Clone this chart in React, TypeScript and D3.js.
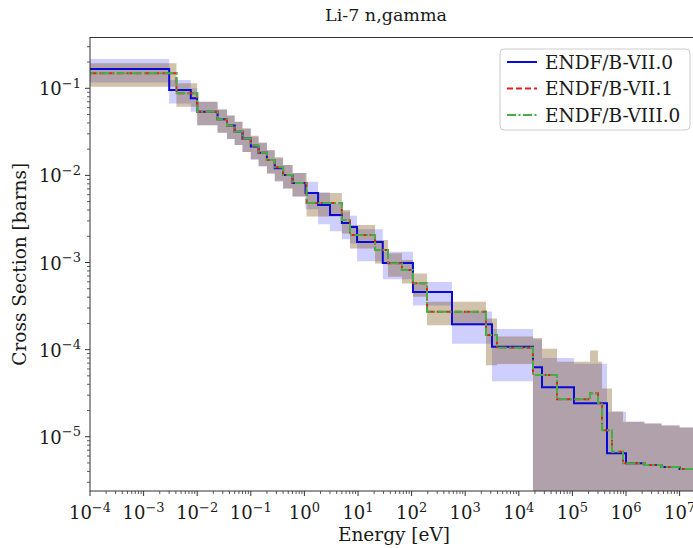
import React from "react";
import * as d3 from "d3";

const W = 693;
const H = 548;

const xTickExps = [-4, -3, -2, -1, 0, 1, 2, 3, 4, 5, 6, 7];
const yTickExps = [-1, -2, -3, -4, -5];

// ENDF/B-VII.0
const edges70 = [1e-5, 3e-3, 7.6e-3, 1e-2, 0.024, 0.036, 0.05, 0.07, 0.1, 0.14, 0.2, 0.28, 0.4, 0.6, 1.05, 1.8, 3.0, 5.0, 7.1, 9.6, 29, 106, 567, 3160, 1.84e4, 2.71e4, 1.07e5, 4.42e5, 1.0e6, 2.2e6, 4.6e6, 1e7, 3e7];
const values70 = [0.167, 0.0956, 0.0768, 0.0538, 0.044, 0.0375, 0.0318, 0.0266, 0.0214, 0.0182, 0.015, 0.0121, 0.0101, 0.0082, 0.00628, 0.00457, 0.00351, 0.00284, 0.00255, 0.00172, 0.000986, 0.000458, 0.000195, 0.000108, 6.26e-5, 3.69e-5, 2.42e-5, 6.45e-6, 4.95e-6, 4.73e-6, 4.49e-6, 4.26e-6];
const unc70 = [0.3, 0.3, 0.3, 0.3, 0.3, 0.3, 0.3, 0.3, 0.3, 0.3, 0.3, 0.3, 0.3, 0.3, 0.35, 0.4, 0.35, 0.35, 0.35, 0.4, 0.35, 0.3, 0.4, 0.6, 1.1, 1.17, 1.85, 2.0, 2.0, 2.0, 2.0, 2.0];

// ENDF/B-VII.1
const edges71 = [1e-5, 4.1e-3, 1e-2, 0.024, 0.036, 0.05, 0.07, 0.1, 0.14, 0.2, 0.28, 0.4, 0.6, 1.1, 5.0, 7.1, 20.8, 36.3, 66, 106, 194, 2440, 3920, 1.84e4, 2.71e4, 5.16e4, 2.13e5, 3.0e5, 3.57e5, 5.48e5, 8.79e5, 2.2e6, 4.6e6, 1e7, 3e7];
const values71 = [0.149, 0.0877, 0.0538, 0.044, 0.0375, 0.0318, 0.0266, 0.022, 0.0182, 0.015, 0.0124, 0.0101, 0.0082, 0.00482, 0.00308, 0.00207, 0.00139, 0.00098, 0.00082, 0.000577, 0.000272, 0.000147, 0.000105, 5.11e-5, 5.11e-5, 2.69e-5, 3.15e-5, 2.45e-5, 1.19e-5, 6.73e-6, 4.95e-6, 4.73e-6, 4.49e-6, 4.26e-6];
const unc71 = [0.3, 0.3, 0.3, 0.3, 0.3, 0.3, 0.3, 0.3, 0.3, 0.3, 0.3, 0.3, 0.3, 0.3, 0.3, 0.3, 0.3, 0.3, 0.3, 0.3, 0.3, 0.55, 0.35, 1.66, 1.0, 1.7, 2.1, 1.96, 2.0, 1.9, 2.0, 2.0, 2.0, 2.0];

// ENDF/B-VIII.0
const edges80 = [1e-5, 4.1e-3, 1e-2, 0.024, 0.036, 0.05, 0.07, 0.1, 0.14, 0.2, 0.28, 0.4, 0.6, 1.1, 5.0, 7.1, 20.8, 36.3, 66, 106, 194, 2440, 3920, 1.84e4, 2.71e4, 5.16e4, 2.13e5, 3.0e5, 3.57e5, 5.48e5, 8.79e5, 2.2e6, 4.6e6, 1e7, 3e7];
const values80 = [0.149, 0.0877, 0.0538, 0.044, 0.0375, 0.0318, 0.0266, 0.022, 0.0182, 0.015, 0.0124, 0.0101, 0.0082, 0.00482, 0.00308, 0.00207, 0.00139, 0.00098, 0.00082, 0.000577, 0.000272, 0.000147, 0.000105, 5.11e-5, 5.11e-5, 2.69e-5, 3.15e-5, 2.45e-5, 1.19e-5, 6.73e-6, 4.95e-6, 4.73e-6, 4.49e-6, 4.26e-6];
const unc80 = [0.3, 0.3, 0.3, 0.3, 0.3, 0.3, 0.3, 0.3, 0.3, 0.3, 0.3, 0.3, 0.3, 0.3, 0.3, 0.3, 0.3, 0.3, 0.3, 0.3, 0.3, 0.55, 0.35, 1.66, 1.0, 1.7, 2.1, 1.96, 2.0, 1.9, 2.0, 2.0, 2.0, 2.0];

const seriesNames = ["ENDF/B-VII.0", "ENDF/B-VII.1", "ENDF/B-VIII.0"];

const FONT = "DejaVu Serif";

const PL = 90, PR = 700, PT = 37.5, PB = 491;

export default function App() {
  const x = d3.scaleLog().domain([1e-4, Math.pow(10, -4 + (PR - PL) / 53.6)]).range([PL, PR]);
  const y = d3.scaleLog().domain([Math.pow(10, -5.623), Math.pow(10, -0.417)]).range([PB, PT]);
  const yFloor = Math.pow(10, -7);

  const series = [
    { name: seriesNames[0], edges: edges70, values: values70, unc: unc70, band: "#0000ff", op: 0.19, line: "#0a0ad8", dash: "none" },
    { name: seriesNames[1], edges: edges71, values: values71, unc: unc71, band: "#ff0000", op: 0.18, line: "#dd2020", dash: "6,3" },
    { name: seriesNames[2], edges: edges80, values: values80, unc: unc80, band: "#008000", op: 0.18, line: "#44b044", dash: "9,2.5,2,2.5" },
  ];

  const build = (s: any) =>
    s.edges.map((e: number, i: number) => {
      const k = Math.min(i, s.values.length - 1);
      const v = s.values[k];
      const u = s.unc[k];
      const lo = v * (1 - u);
      return { e, v, hi: v * (1 + u), lo: lo > 0 ? lo : yFloor };
    });

  const area = d3.area<any>().x((d) => x(d.e)).y0((d) => y(d.lo)).y1((d) => y(d.hi)).curve(d3.curveStepAfter);
  const line = d3.line<any>().x((d) => x(d.e)).y((d) => y(d.v)).curve(d3.curveStepAfter);

  const xMinor: number[] = [];
  for (let p = -4; p <= 7; p++) for (let m = 2; m <= 9; m++) { const v = m * Math.pow(10, p); if (x(v) <= PR) xMinor.push(v); }
  const yMinor: number[] = [];
  for (let p = -6; p <= -1; p++) for (let m = 2; m <= 9; m++) { const v = m * Math.pow(10, p); if (y(v) >= PT && y(v) <= PB) yMinor.push(v); }

  const axisColor = "#333";

  return (
    <svg width={W} height={H} style={{ position: "absolute", left: 0, top: 0, background: "#fff" }} fontFamily={FONT}>
      <defs>
        <clipPath id="plotclip">
          <rect x={PL} y={PT} width={PR - PL} height={PB - PT} />
        </clipPath>
      </defs>
      <rect x={0} y={0} width={W} height={H} fill="#fff" />
      <g clipPath="url(#plotclip)">
        {series.map((s) => (
          <path key={"b" + s.name} d={area(build(s)) || ""} fill={s.band} fillOpacity={s.op} stroke="none" />
        ))}
        {series.map((s) => (
          <path key={"l" + s.name} d={line(build(s)) || ""} fill="none" stroke={s.line} strokeWidth={2} strokeDasharray={s.dash} />
        ))}
      </g>
      {/* spines */}
      <rect x={PL} y={PT} width={PR - PL} height={PB - PT} fill="none" stroke={axisColor} strokeWidth={1} />
      {/* x ticks */}
      {xTickExps.map((p) => (
        <line key={"xt" + p} x1={x(Math.pow(10, p))} x2={x(Math.pow(10, p))} y1={PB} y2={PB + 5} stroke={axisColor} strokeWidth={1} />
      ))}
      {xMinor.map((v, i) => (
        <line key={"xm" + i} x1={x(v)} x2={x(v)} y1={PB} y2={PB + 3} stroke={axisColor} strokeWidth={0.8} />
      ))}
      {xTickExps.map((p) => (
        <text key={"xl" + p} x={x(Math.pow(10, p))} y={519} textAnchor="middle" fontSize={18} fill="#1a1a1a">
          <tspan>10</tspan>
          <tspan dy={-7.5} fontSize={13}>{p < 0 ? "\u2212" + Math.abs(p) : String(p)}</tspan>
        </text>
      ))}
      {/* y ticks */}
      {yTickExps.map((p) => (
        <line key={"yt" + p} x1={PL - 5} x2={PL} y1={y(Math.pow(10, p))} y2={y(Math.pow(10, p))} stroke={axisColor} strokeWidth={1} />
      ))}
      {yMinor.map((v, i) => (
        <line key={"ym" + i} x1={PL - 3} x2={PL} y1={y(v)} y2={y(v)} stroke={axisColor} strokeWidth={0.8} />
      ))}
      {yTickExps.map((p) => (
        <text key={"yl" + p} x={81} y={y(Math.pow(10, p)) + 7} textAnchor="end" fontSize={18} fill="#1a1a1a">
          <tspan>10</tspan>
          <tspan dy={-7.5} fontSize={13}>{"\u2212" + Math.abs(p)}</tspan>
        </text>
      ))}
      {/* labels */}
      <text x={386} y={21} textAnchor="middle" fontSize={17.5} fill="#1a1a1a">Li-7 n,gamma</text>
      <text x={394} y={541} textAnchor="middle" fontSize={18.5} fill="#1a1a1a">Energy [eV]</text>
      <text transform={`translate(26,${(PT + PB) / 2}) rotate(-90)`} textAnchor="middle" fontSize={18.5} fill="#1a1a1a">Cross Section [barns]</text>
      {/* legend */}
      <g>
        <rect x={500} y={49} width={190} height={81} rx={4} fill="#fff" fillOpacity={0.9} stroke="#ccc" strokeWidth={1} />
        {series.map((s, i) => (
          <g key={"lg" + s.name}>
            <line x1={507} x2={537} y1={62 + i * 26.5} y2={62 + i * 26.5} stroke={s.line} strokeWidth={2} strokeDasharray={s.dash} />
            <text x={545} y={62 + i * 26.5 + 6.5} fontSize={18.5} fill="#1a1a1a">{s.name}</text>
          </g>
        ))}
      </g>
    </svg>
  );
}
